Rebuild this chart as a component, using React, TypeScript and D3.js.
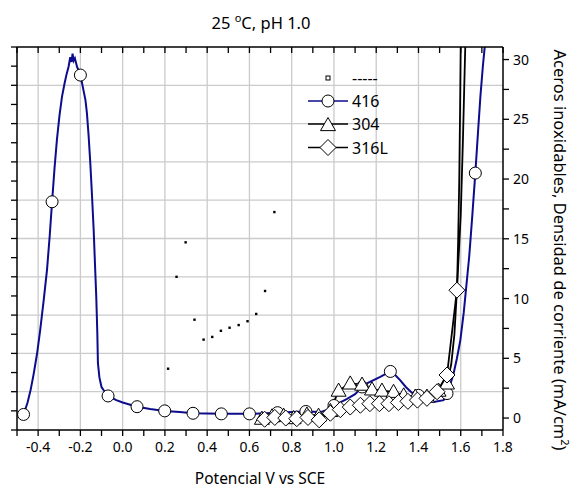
import * as d3 from "d3";

// potencial (V vs SCE) and densidad de corriente (mA/cm2)
const v416 = [-0.469, -0.45, -0.435, -0.421, -0.405, -0.39, -0.374, -0.358, -0.345, -0.334, -0.322, -0.311, -0.299, -0.287, -0.275, -0.265, -0.256, -0.248, -0.242, -0.237, -0.232, -0.226, -0.216, -0.2, -0.185, -0.176, -0.169, -0.161, -0.153, -0.145, -0.137, -0.131, -0.125, -0.12, -0.117, -0.11, -0.1, -0.085, -0.069, -0.03, 0.0, 0.068, 0.13, 0.199, 0.27, 0.333, 0.467, 0.6, 0.733, 0.8, 0.867, 0.936, 0.97, 1.0, 1.062, 1.1, 1.133, 1.156, 1.219, 1.267, 1.29, 1.314, 1.34, 1.37, 1.4, 1.43, 1.472, 1.519, 1.535, 1.55, 1.566, 1.582, 1.598, 1.614, 1.64, 1.655, 1.669, 1.682, 1.693, 1.705, 1.716];
const i416 = [0.3, 1.3, 2.4, 3.7, 5.4, 7.4, 9.8, 12.4, 15.3, 18.1, 21.0, 23.3, 25.3, 26.9, 28.0, 28.8, 29.4, 30.2, 29.8, 30.5, 29.9, 30.1, 29.4, 28.7, 27.4, 26.6, 25.5, 23.6, 21.3, 18.6, 15.7, 12.9, 10.2, 7.2, 4.6, 3.4, 2.6, 2.2, 1.85, 1.5, 1.3, 0.95, 0.75, 0.6, 0.5, 0.4, 0.35, 0.35, 0.45, 0.5, 0.55, 0.5, 0.7, 1.05, 1.6, 2.0, 2.6, 2.9, 3.45, 3.9, 3.6, 3.15, 2.6, 2.1, 1.9, 1.5, 1.35, 1.5, 2.05, 2.8, 3.7, 5.0, 6.5, 8.8, 13.5, 17, 20.5, 24, 26.9, 29.5, 31.5];
const mark416V = [-0.469, -0.334, -0.2, -0.069, 0.068, 0.199, 0.333, 0.467, 0.6, 0.733, 0.867, 1.0, 1.133, 1.267, 1.4, 1.535, 1.669];
const mark416I = [0.3, 18.1, 28.7, 1.85, 0.95, 0.6, 0.4, 0.35, 0.35, 0.45, 0.55, 1.05, 2.6, 3.9, 1.9, 2.05, 20.5];

const v304 = [0.659, 0.707, 0.762, 0.809, 0.872, 0.927, 0.983, 1.022, 1.077, 1.133, 1.18, 1.227, 1.282, 1.33, 1.385, 1.44, 1.495, 1.535];
const i304 = [-0.05, 0.15, 0.2, 0.0, 0.3, 0.2, 0.6, 2.3, 2.9, 2.8, 2.4, 2.3, 2.2, 1.9, 1.8, 1.8, 2.3, 2.9];
const tail304V = [1.555, 1.57, 1.582, 1.588, 1.593, 1.597, 1.6];
const tail304I = [4.5, 7, 10.7, 15, 20, 26, 31.5];

const v316 = [0.672, 0.72, 0.772, 0.824, 0.877, 0.93, 0.983, 1.03, 1.077, 1.125, 1.17, 1.215, 1.26, 1.305, 1.35, 1.395, 1.44, 1.488, 1.535, 1.582];
const i316 = [-0.1, 0.05, 0.0, -0.05, 0.05, -0.15, 0.4, 0.7, 0.92, 1.07, 1.2, 1.2, 1.2, 1.3, 1.4, 1.5, 1.65, 2.2, 3.6, 10.7];
const tail316V = [1.6, 1.61, 1.617, 1.622];
const tail316I = [17, 23, 28, 31.5];

// the "-----" series, on the unlabelled left axis
const dotsV = [0.215, 0.255, 0.298, 0.34, 0.383, 0.424, 0.465, 0.506, 0.549, 0.591, 0.632, 0.674, 0.718];
const dotsI = [1.6, 4.0, 4.9, 2.88, 2.36, 2.43, 2.59, 2.67, 2.74, 2.84, 3.03, 3.63, 5.69];

const xLabels = [-0.4, -0.2, 0.0, 0.2, 0.4, 0.6, 0.8, 1.0, 1.2, 1.4, 1.6, 1.8];
const yLabels = [0, 5, 10, 15, 20, 25, 30];
const legendNames = ["-----", "416", "304", "316L"];

const BLUE = "#0c0c8c";
const FONT = "'Noto Sans', sans-serif";

const L = 17, R = 503, T = 47, B = 430;

const App = () => {
  const x = d3.scaleLinear().domain([-0.5, 1.8]).range([L, R]);
  const y = d3.scaleLinear().domain([-1, 31.05]).range([B, T]);
  const yLeft = d3.scaleLinear().domain([0, 10]).range([B, T]);

  const line = d3.line<[number, number]>().x(d => x(d[0])).y(d => y(d[1]));
  const zip = (a: number[], b: number[]) => a.map((v, i) => [v, b[i]] as [number, number]);

  const xMinor = d3.range(-5, 19).map(i => i / 10);
  const yRightTicks = d3.range(0, 13).map(i => i * 2.5);
  const yLeftTicks = d3.range(0, 21).map(i => i * 0.5);
  const vGrid = d3.range(-2, 9).map(i => i / 5);
  const hGrid = d3.range(1, 10);

  const tri = (cx: number, cy: number, s = 7.5) =>
    `M${cx},${cy - s}L${cx + s},${cy + s * 0.75}L${cx - s},${cy + s * 0.75}Z`;
  const dia = (cx: number, cy: number, s = 8) =>
    `M${cx},${cy - s}L${cx + s},${cy}L${cx},${cy + s}L${cx - s},${cy}Z`;

  const legY = [78, 101, 124, 147.5];

  return (
    <svg width={576} height={492} style={{ position: "absolute", left: 0, top: 0, background: "#fff" }} fontFamily={FONT}>
      <defs>
        <clipPath id="plot">
          <rect x={L} y={T} width={R - L} height={B - T} />
        </clipPath>
      </defs>

      {/* grid */}
      {vGrid.map(v => (
        <line key={"vg" + v} x1={x(v)} x2={x(v)} y1={T} y2={B} stroke="#cbcbcb" strokeWidth={1.3} />
      ))}
      {hGrid.map(v => (
        <line key={"hg" + v} x1={L} x2={R} y1={yLeft(v)} y2={yLeft(v)} stroke="#cbcbcb" strokeWidth={1.3} />
      ))}

      {/* title */}
      <text x={261} y={29} textAnchor="middle" fontSize={16.5}>
        25 <tspan fontSize={11} dy={-7}>o</tspan><tspan dy={7}>C, pH 1.0</tspan>
      </text>

      <g clipPath="url(#plot)">
        <path d={line(zip(v416, i416)) || ""} fill="none" stroke={BLUE} strokeWidth={2} />
        <path d={line(zip(v304.concat(tail304V), i304.concat(tail304I))) || ""} fill="none" stroke="#000" strokeWidth={1.8} />
        <path d={line(zip(v316.concat(tail316V), i316.concat(tail316I))) || ""} fill="none" stroke="#000" strokeWidth={1.8} />

        {dotsV.map((v, i) => (
          <rect key={"d" + i} x={x(v) - 1.2} y={yLeft(dotsI[i]) - 1.2} width={2.4} height={2.4} fill="#000" />
        ))}

        {mark416V.map((v, i) => (
          <circle key={"c" + i} cx={x(v)} cy={y(mark416I[i])} r={6} fill="#fff" stroke="#000" strokeWidth={1} />
        ))}
        {v304.map((v, i) => (
          <path key={"t" + i} d={tri(x(v), y(i304[i]))} fill="#fff" stroke="#000" strokeWidth={1} />
        ))}
        {v316.map((v, i) => (
          <path key={"m" + i} d={dia(x(v), y(i316[i]))} fill="#fff" stroke="#000" strokeWidth={1} />
        ))}
      </g>

      {/* axes frame */}
      <line x1={L} x2={R} y1={T} y2={T} stroke="#000" strokeWidth={1.5} />
      <line x1={L} x2={R} y1={B} y2={B} stroke="#000" strokeWidth={1.5} />
      <line x1={L} x2={L} y1={T} y2={B} stroke="#000" strokeWidth={1.5} />
      <line x1={R} x2={R} y1={T} y2={B} stroke="#000" strokeWidth={1.5} />

      {/* bottom and top ticks, bottom labels */}
      {xMinor.map(v => (
        <line key={"bt" + v} x1={x(v)} x2={x(v)} y1={B} y2={B + 6} stroke="#000" strokeWidth={1.3} />
      ))}
      {xMinor.map(v => (
        <line key={"tt" + v} x1={x(v)} x2={x(v)} y1={T} y2={T + 6} stroke="#000" strokeWidth={1.3} />
      ))}
      {xLabels.map(v => (
        <text key={"xl" + v} x={x(v)} y={452} textAnchor="middle" fontSize={14}>
          {v.toFixed(1)}
        </text>
      ))}
      <text x={260} y={484} textAnchor="middle" fontSize={15.5}>Potencial V vs SCE</text>

      {/* left axis, unlabelled */}
      {yLeftTicks.map(v => (
        <line key={"lt" + v} x1={L - 6} x2={L} y1={yLeft(v)} y2={yLeft(v)} stroke="#000" strokeWidth={1.3} />
      ))}

      {/* right axis */}
      {yRightTicks.map(v => (
        <line key={"rt" + v} x1={R} x2={R + 6} y1={y(v)} y2={y(v)} stroke="#000" strokeWidth={1.3} />
      ))}
      {yLabels.map(v => (
        <text key={"yl" + v} x={513} y={y(v) + 5} fontSize={14}>{v}</text>
      ))}
      <text transform="translate(554,250) rotate(90)" textAnchor="middle" fontSize={16.5}>
        Aceros inoxidables, Densidad de corriente (mA/cm<tspan fontSize={11} dy={-7}>2</tspan><tspan dy={7}>)</tspan>
      </text>

      {/* legend */}
      <rect x={326} y={legY[0] - 2} width={4} height={4} fill="#fff" stroke="#000" strokeWidth={1} />
      <line x1={308} x2={348} y1={legY[1]} y2={legY[1]} stroke={BLUE} strokeWidth={1.5} />
      <circle cx={328} cy={legY[1]} r={6} fill="#fff" stroke="#000" strokeWidth={1} />
      <line x1={308} x2={348} y1={legY[2]} y2={legY[2]} stroke="#000" strokeWidth={1.5} />
      <path d={tri(328, legY[2] + 1)} fill="#fff" stroke="#000" strokeWidth={1} />
      <line x1={308} x2={348} y1={legY[3]} y2={legY[3]} stroke="#000" strokeWidth={1.5} />
      <path d={dia(328, legY[3])} fill="#fff" stroke="#000" strokeWidth={1} />
      {legendNames.map((n, i) => (
        <text key={"lg" + n} x={352} y={legY[i] + 6} fontSize={16}>{n}</text>
      ))}
    </svg>
  );
};

export default App;
